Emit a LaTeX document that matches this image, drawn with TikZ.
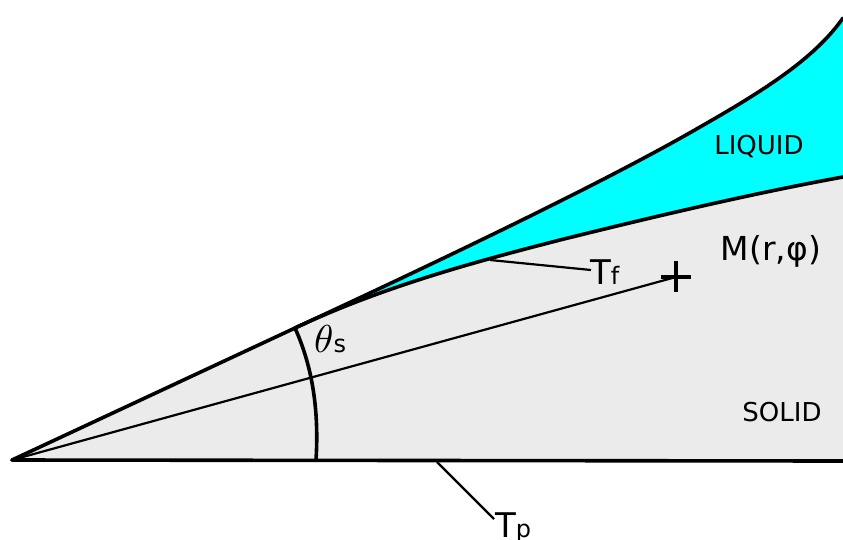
\documentclass[tikz,border=0pt]{standalone}
\usepackage{graphicx}
\usepackage{fontspec}
\setmainfont{DejaVu Sans}
\begin{document}
\begin{tikzpicture}[x=1pt,y=-1pt,
  thick line/.style={line width=3.6pt, line join=round, line cap=round},
  thin line/.style={line width=2.2pt},
  lbl/.style={inner sep=0pt, font=\fontsize{26}{26}\selectfont},
  big/.style={inner sep=0pt, font=\fontsize{33}{33}\selectfont},
  sublbl/.style={inner sep=0pt, anchor=base west}]
\useasboundingbox (0,0) rectangle (843,539);
\definecolor{solidgrey}{HTML}{EBEBEB}
\definecolor{liquidcyan}{HTML}{00FFFF}
\coordinate (O) at (12,460);
\coordinate (S) at (295,328);
\coordinate (E) at (843,461);
\coordinate (F) at (843,177);
\coordinate (L) at (843,18);
\coordinate (M) at (676,277);
% solid
\fill[solidgrey] (O) -- (S) .. controls (380,288) and (470,263) .. (560,240)
   .. controls (660,215) and (760,192) .. (F) -- (E) -- cycle;
% liquid
\fill[liquidcyan] (S) .. controls (420,270) and (600,185) .. (700,127)
   .. controls (765,90) and (815,58) .. (L) -- (F)
   .. controls (760,192) and (660,215) .. (560,240)
   .. controls (470,263) and (380,288) .. (S) -- cycle;
% thin ray to M
\draw[thin line] (O) -- (M);
% boundaries
\draw[thick line] (O) -- (S) .. controls (420,270) and (600,185) .. (700,127)
   .. controls (765,90) and (815,58) .. (L);
\draw[thick line] (S) .. controls (380,288) and (470,263) .. (560,240)
   .. controls (660,215) and (760,192) .. (F);
\draw[thick line] (O) -- (E);
% angle arc
\draw[thick line] (316,460) .. controls (319,412) and (313,368) .. (S);
% cross
\draw[line width=3.4pt] (661,277) -- (691,277) (676,261) -- (676,292);
% labels
\node[lbl] (liq) at (759,147) {LIQUID};
\node[lbl] (sol) at (782,412) {SOLID};
\node[big] (mr) at (771,251) {M(r,φ)};
\node[sublbl] (th) at (314,352) {\scalebox{3.9}{$\theta$}\fontsize{24}{24}\selectfont s};
\node[sublbl] (tf) at (590,284) {\fontsize{34}{34}\selectfont T\fontsize{24}{24}\selectfont f};
\node[sublbl] (tp) at (495,537) {\fontsize{34}{34}\selectfont T\fontsize{24}{24}\selectfont p};
\coordinate (tfa) at (490,260);
\coordinate (tpa) at (437,462);
\coordinate (tfe) at (591,270);
\coordinate (tpe) at (494,519);
\draw[thin line] (tfa) -- (tfe);
\draw[thin line] (tpa) -- (tpe);
\end{tikzpicture}
\end{document}
